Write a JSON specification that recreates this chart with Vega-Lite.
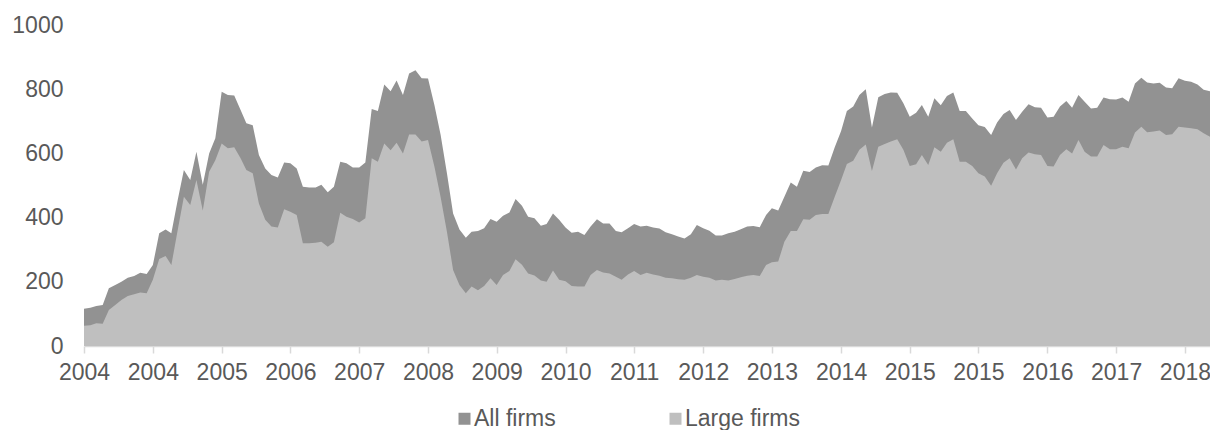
{
  "$schema": "https://vega.github.io/schema/vega-lite/v6.json",
  "width": 1126,
  "height": 321,
  "autosize": {"type": "none"},
  "padding": {"left": 84, "top": 25, "right": 0, "bottom": 84},
  "background": "white",
  "config": {
    "view": {"stroke": null},
    "font": "Liberation Sans",
    "axis": {"labelFont": "Liberation Sans", "labelColor": "#595959", "labelFontSize": 23, "grid": false, "title": null}
  },
  "data": {
    "values": [
      {"d":"2004-01","all":116,"large":63},{"d":"2004-02","all":119,"large":65},{"d":"2004-03","all":125,"large":71},{"d":"2004-04","all":128,"large":69},
      {"d":"2004-05","all":180,"large":112},{"d":"2004-06","all":190,"large":128},{"d":"2004-07","all":200,"large":143},{"d":"2004-08","all":213,"large":156},
      {"d":"2004-09","all":218,"large":161},{"d":"2004-10","all":228,"large":167},{"d":"2004-11","all":224,"large":164},{"d":"2004-12","all":252,"large":206},
      {"d":"2005-01","all":351,"large":271},{"d":"2005-02","all":363,"large":280},{"d":"2005-03","all":351,"large":252},{"d":"2005-04","all":455,"large":361},
      {"d":"2005-05","all":548,"large":465},{"d":"2005-06","all":517,"large":439},{"d":"2005-07","all":605,"large":517},{"d":"2005-08","all":502,"large":422},
      {"d":"2005-09","all":600,"large":543},{"d":"2005-10","all":647,"large":579},{"d":"2005-11","all":792,"large":631},{"d":"2005-12","all":782,"large":616},
      {"d":"2006-01","all":780,"large":619},{"d":"2006-02","all":735,"large":585},{"d":"2006-03","all":694,"large":548},{"d":"2006-04","all":688,"large":538},
      {"d":"2006-05","all":595,"large":444},{"d":"2006-06","all":553,"large":393},{"d":"2006-07","all":533,"large":372},{"d":"2006-08","all":525,"large":369},
      {"d":"2006-09","all":572,"large":426},{"d":"2006-10","all":569,"large":418},{"d":"2006-11","all":553,"large":408},{"d":"2006-12","all":496,"large":320},
      {"d":"2007-01","all":494,"large":320},{"d":"2007-02","all":494,"large":322},{"d":"2007-03","all":502,"large":325},{"d":"2007-04","all":479,"large":309},
      {"d":"2007-05","all":496,"large":323},{"d":"2007-06","all":574,"large":415},{"d":"2007-07","all":569,"large":403},{"d":"2007-08","all":556,"large":396},
      {"d":"2007-09","all":556,"large":385},{"d":"2007-10","all":572,"large":398},{"d":"2007-11","all":738,"large":585},{"d":"2007-12","all":732,"large":574},
      {"d":"2008-01","all":815,"large":631},{"d":"2008-02","all":794,"large":610},{"d":"2008-03","all":827,"large":633},{"d":"2008-04","all":782,"large":600},
      {"d":"2008-05","all":849,"large":659},{"d":"2008-06","all":859,"large":659},{"d":"2008-07","all":834,"large":637},{"d":"2008-08","all":833,"large":642},
      {"d":"2008-09","all":751,"large":559},{"d":"2008-10","all":659,"large":465},{"d":"2008-11","all":538,"large":356},{"d":"2008-12","all":413,"large":237},
      {"d":"2009-01","all":363,"large":190},{"d":"2009-02","all":337,"large":164},{"d":"2009-03","all":356,"large":185},{"d":"2009-04","all":358,"large":174},
      {"d":"2009-05","all":367,"large":187},{"d":"2009-06","all":396,"large":211},{"d":"2009-07","all":387,"large":190},{"d":"2009-08","all":406,"large":221},
      {"d":"2009-09","all":416,"large":234},{"d":"2009-10","all":458,"large":270},{"d":"2009-11","all":437,"large":253},{"d":"2009-12","all":403,"large":226},
      {"d":"2010-01","all":398,"large":220},{"d":"2010-02","all":375,"large":204},{"d":"2010-03","all":380,"large":200},{"d":"2010-04","all":413,"large":235},
      {"d":"2010-05","all":393,"large":206},{"d":"2010-06","all":369,"large":202},{"d":"2010-07","all":353,"large":187},{"d":"2010-08","all":356,"large":185},
      {"d":"2010-09","all":346,"large":185},{"d":"2010-10","all":372,"large":221},{"d":"2010-11","all":395,"large":237},{"d":"2010-12","all":382,"large":229},
      {"d":"2011-01","all":382,"large":226},{"d":"2011-02","all":358,"large":216},{"d":"2011-03","all":354,"large":206},{"d":"2011-04","all":367,"large":223},
      {"d":"2011-05","all":380,"large":234},{"d":"2011-06","all":372,"large":221},{"d":"2011-07","all":375,"large":228},{"d":"2011-08","all":369,"large":223},
      {"d":"2011-09","all":366,"large":219},{"d":"2011-10","all":354,"large":213},{"d":"2011-11","all":348,"large":211},{"d":"2011-12","all":341,"large":208},
      {"d":"2012-01","all":335,"large":206},{"d":"2012-02","all":348,"large":213},{"d":"2012-03","all":377,"large":221},{"d":"2012-04","all":367,"large":216},
      {"d":"2012-05","all":359,"large":213},{"d":"2012-06","all":344,"large":204},{"d":"2012-07","all":344,"large":206},{"d":"2012-08","all":351,"large":204},
      {"d":"2012-09","all":356,"large":209},{"d":"2012-10","all":364,"large":214},{"d":"2012-11","all":372,"large":219},{"d":"2012-12","all":374,"large":221},
      {"d":"2013-01","all":370,"large":218},{"d":"2013-02","all":408,"large":252},{"d":"2013-03","all":429,"large":261},{"d":"2013-04","all":422,"large":263},
      {"d":"2013-05","all":465,"large":325},{"d":"2013-06","all":509,"large":358},{"d":"2013-07","all":496,"large":358},{"d":"2013-08","all":546,"large":395},
      {"d":"2013-09","all":542,"large":393},{"d":"2013-10","all":556,"large":408},{"d":"2013-11","all":563,"large":411},{"d":"2013-12","all":562,"large":411},
      {"d":"2014-01","all":619,"large":465},{"d":"2014-02","all":670,"large":517},{"d":"2014-03","all":732,"large":567},{"d":"2014-04","all":746,"large":577},
      {"d":"2014-05","all":782,"large":611},{"d":"2014-06","all":800,"large":628},{"d":"2014-07","all":681,"large":545},{"d":"2014-08","all":775,"large":621},
      {"d":"2014-09","all":785,"large":629},{"d":"2014-10","all":790,"large":637},{"d":"2014-11","all":789,"large":644},{"d":"2014-12","all":756,"large":611},
      {"d":"2015-01","all":714,"large":561},{"d":"2015-02","all":727,"large":566},{"d":"2015-03","all":751,"large":595},{"d":"2015-04","all":714,"large":564},
      {"d":"2015-05","all":772,"large":619},{"d":"2015-06","all":750,"large":605},{"d":"2015-07","all":779,"large":633},{"d":"2015-08","all":790,"large":644},
      {"d":"2015-09","all":732,"large":574},{"d":"2015-10","all":732,"large":574},{"d":"2015-11","all":709,"large":561},{"d":"2015-12","all":688,"large":538},
      {"d":"2016-01","all":682,"large":528},{"d":"2016-02","all":657,"large":499},{"d":"2016-03","all":696,"large":538},{"d":"2016-04","all":723,"large":571},
      {"d":"2016-05","all":735,"large":585},{"d":"2016-06","all":704,"large":550},{"d":"2016-07","all":730,"large":585},{"d":"2016-08","all":753,"large":603},
      {"d":"2016-09","all":744,"large":597},{"d":"2016-10","all":742,"large":595},{"d":"2016-11","all":712,"large":561},{"d":"2016-12","all":714,"large":559},
      {"d":"2017-01","all":746,"large":595},{"d":"2017-02","all":763,"large":613},{"d":"2017-03","all":742,"large":600},{"d":"2017-04","all":782,"large":642},
      {"d":"2017-05","all":761,"large":605},{"d":"2017-06","all":740,"large":590},{"d":"2017-07","all":742,"large":590},{"d":"2017-08","all":774,"large":626},
      {"d":"2017-09","all":769,"large":613},{"d":"2017-10","all":768,"large":613},{"d":"2017-11","all":774,"large":621},{"d":"2017-12","all":761,"large":616},
      {"d":"2018-01","all":818,"large":665},{"d":"2018-02","all":836,"large":683},{"d":"2018-03","all":821,"large":666},{"d":"2018-04","all":818,"large":668},
      {"d":"2018-05","all":820,"large":671},{"d":"2018-06","all":805,"large":657},{"d":"2018-07","all":803,"large":660},{"d":"2018-08","all":834,"large":683},
      {"d":"2018-09","all":826,"large":681},{"d":"2018-10","all":823,"large":678},{"d":"2018-11","all":815,"large":675},{"d":"2018-12","all":798,"large":663},
      {"d":"2019-01","all":794,"large":652}
    ]
  },
  "encoding": {
    "x": {
      "field": "d",
      "type": "temporal",
      "scale": {
        "type": "utc",
        "domain": [{"year": 2004, "month": 1, "date": 1, "utc": true}, {"year": 2019, "month": 1, "date": 1, "utc": true}]
      },
      "axis": {
        "values": [
          {"year": 2004, "month": 1, "date": 1, "utc": true},
          {"year": 2004, "month": 12, "date": 1, "utc": true},
          {"year": 2005, "month": 11, "date": 1, "utc": true},
          {"year": 2006, "month": 10, "date": 1, "utc": true},
          {"year": 2007, "month": 9, "date": 1, "utc": true},
          {"year": 2008, "month": 8, "date": 1, "utc": true},
          {"year": 2009, "month": 7, "date": 1, "utc": true},
          {"year": 2010, "month": 6, "date": 1, "utc": true},
          {"year": 2011, "month": 5, "date": 1, "utc": true},
          {"year": 2012, "month": 4, "date": 1, "utc": true},
          {"year": 2013, "month": 3, "date": 1, "utc": true},
          {"year": 2014, "month": 2, "date": 1, "utc": true},
          {"year": 2015, "month": 1, "date": 1, "utc": true},
          {"year": 2015, "month": 12, "date": 1, "utc": true},
          {"year": 2016, "month": 11, "date": 1, "utc": true},
          {"year": 2017, "month": 10, "date": 1, "utc": true},
          {"year": 2018, "month": 9, "date": 1, "utc": true}
        ],
        "labelExpr": "utcFormat(datum.value, '%Y')",
        "domainColor": "#d9d9d9",
        "domainWidth": 1.5,
        "tickColor": "#d9d9d9",
        "tickWidth": 1.5,
        "tickSize": 7,
        "labelPadding": 8,
        "labelFlush": false,
        "labelOverlap": false
      }
    }
  },
  "layer": [
    {
      "mark": {"type": "area", "opacity": 1, "interpolate": "linear"},
      "encoding": {
        "y": {
          "field": "all",
          "type": "quantitative",
          "stack": null,
          "scale": {"domain": [0, 1000], "nice": false},
          "axis": {"values": [0, 200, 400, 600, 800, 1000], "format": "d", "domain": false, "ticks": false, "labelPadding": 21}
        },
        "color": {
          "datum": "All firms",
          "scale": {"domain": ["All firms", "Large firms"], "range": ["#929292", "#bfbfbf"]},
          "legend": {
            "title": null,
            "orient": "none",
            "direction": "horizontal",
            "legendX": 369,
            "legendY": 382,
            "padding": 0,
            "symbolType": "square",
            "symbolSize": 144,
            "symbolStrokeWidth": 0,
            "symbolOpacity": 1,
            "labelOffset": -2,
            "columnPadding": 108,
            "labelFont": "Liberation Sans",
            "labelFontSize": 23,
            "labelColor": "#595959",
            "labelLimit": 300
          }
        }
      }
    },
    {
      "mark": {"type": "area", "opacity": 1, "interpolate": "linear"},
      "encoding": {
        "y": {"field": "large", "type": "quantitative", "stack": null},
        "color": {"datum": "Large firms"}
      }
    }
  ]
}
